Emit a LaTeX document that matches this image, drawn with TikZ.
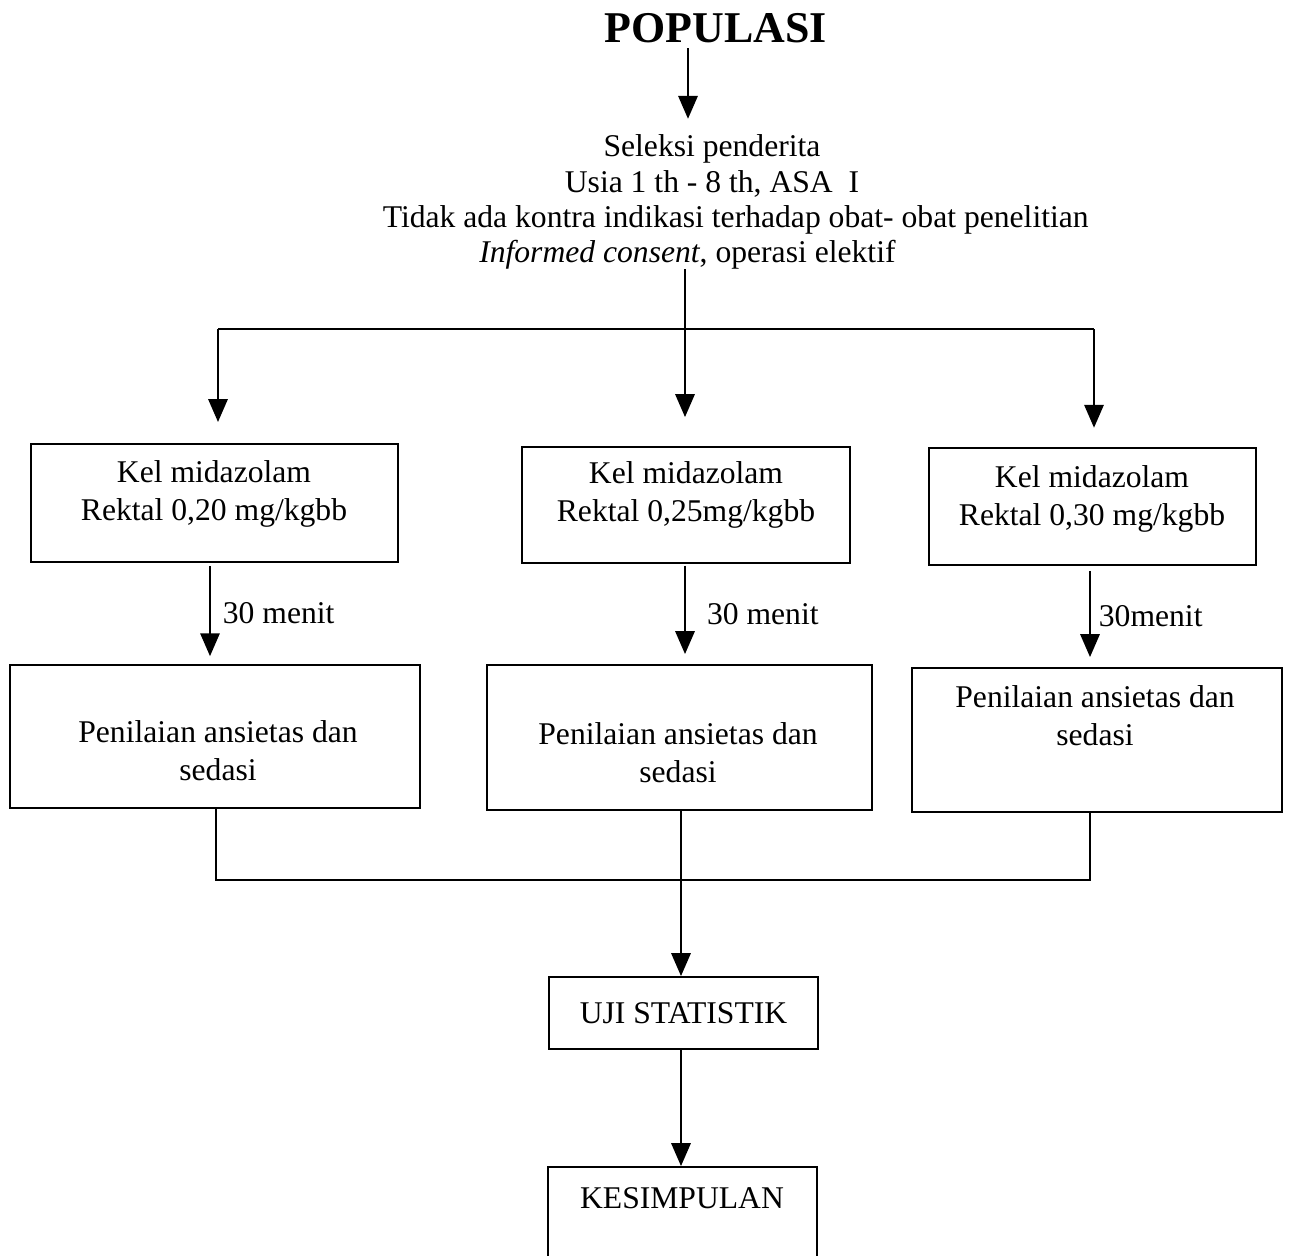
\documentclass[tikz,border=0pt]{standalone}
\usepackage{fontspec}
\setmainfont{Liberation Serif}
\usetikzlibrary{arrows.meta}
\begin{document}
\begin{tikzpicture}[x=0.02cm,y=-0.02cm,
  every node/.style={inner sep=0pt},
  box/.style={draw, line width=1.1pt, inner sep=0pt},
  txt/.style={align=center, font=\fontsize{18}{21.5}\selectfont},
  lbl/.style={font=\fontsize{18}{21.5}\selectfont},
  ln/.style={line width=1.1pt},
  arr/.style={ln, -{Triangle[width=11pt,length=13pt]}}]
\useasboundingbox (0,0) rectangle (1290,1255);
\clip (0,0) rectangle (1290,1255);

% title and selection text
\node[font=\fontsize{25}{27}\selectfont\bfseries] (pop) at (716,28) {POPULASI};
\node[align=center, font=\fontsize{18}{20}\selectfont] (sel) at (712,202)
  {Seleksi penderita\\Usia 1 th - 8 th, ASA\ \ I\hspace*{26pt}\\\hspace*{27pt}Tidak ada kontra indikasi terhadap obat- obat penelitian\\\textit{Informed consent}, operasi elektif\hspace*{28pt}};

% first row of boxes
\node[box, minimum width=7.34cm, minimum height=2.36cm] (b1) at (214.5,503) {};
\node[txt] (t1) at (214,494) {Kel midazolam\\Rektal 0,20 mg/kgbb};
\node[box, minimum width=6.56cm, minimum height=2.32cm] (b2) at (686,505) {};
\node[txt] (t2) at (686,495) {Kel midazolam\\Rektal 0,25mg/kgbb};
\node[box, minimum width=6.54cm, minimum height=2.34cm] (b3) at (1092.5,506.5) {};
\node[txt] (t3) at (1092,499) {Kel midazolam\\Rektal 0,30 mg/kgbb};

% second row of boxes
\node[box, minimum width=8.2cm, minimum height=2.86cm] (b4) at (215,736.5) {};
\node[txt] (t4) at (218,751) {Penilaian ansietas dan\\sedasi};
\node[box, minimum width=7.7cm, minimum height=2.9cm] (b5) at (679.5,737.5) {};
\node[txt] (t5) at (678,753) {Penilaian ansietas dan\\sedasi};
\node[box, minimum width=7.4cm, minimum height=2.88cm] (b6) at (1097,740) {};
\node[txt] (t6) at (1095,716) {Penilaian ansietas dan\\sedasi};

% bottom boxes
\node[box, txt, minimum width=5.38cm, minimum height=1.44cm] (uji) at (683.5,1013) {UJI STATISTIK};
\node[box, minimum width=5.38cm, minimum height=2.9cm] (kes) at (682.5,1239.5) {};
\node[txt] (tk) at (682,1198) {KESIMPULAN};

% connectors
\coordinate (ax) at (688,0);
\draw[arr, shorten <=3pt, shorten >=9pt] (pop.south -| ax) -- (sel.north -| ax);

\coordinate (bl) at (218,329);
\coordinate (br) at (1094,329);
\coordinate (bm) at (685,329);
\draw[ln] (bl) -- (br);
\draw[arr, shorten >=12pt] (bl) -- (bl |- b1.north);
\draw[arr, shorten >=11pt] (br) -- (br |- b3.north);
\draw[arr, shorten >=16.5pt] (sel.south -| bm) -- (bm |- b2.north);

\coordinate (m1x) at (210,0);
\coordinate (m2x) at (685,0);
\coordinate (m3x) at (1090,0);
\draw[arr, shorten <=1.7pt, shorten >=4.5pt] (b1.south -| m1x) -- node[lbl, right=6.8pt] (l1) {30 menit} (b4.north -| m1x);
\draw[arr, shorten <=1pt, shorten >=5.7pt] (b2.south -| m2x) -- node[lbl, right=12pt] (l2) {30 menit} (b5.north -| m2x);
\draw[arr, shorten <=2.8pt, shorten >=5.7pt] (b3.south -| m3x) -- node[lbl, right=4.5pt] (l3) {30menit} (b6.north -| m3x);

\coordinate (ml) at (216,880);
\coordinate (mr) at (1090,880);
\coordinate (vx) at (681,0);
\draw[ln] (b4.south -| ml) -- (ml) -- (mr) -- (b6.south -| mr);
\draw[arr] (b5.south -| vx) -- (vx |- uji.north);
\draw[arr] (uji.south -| vx) -- (vx |- kes.north);
\end{tikzpicture}
\end{document}
